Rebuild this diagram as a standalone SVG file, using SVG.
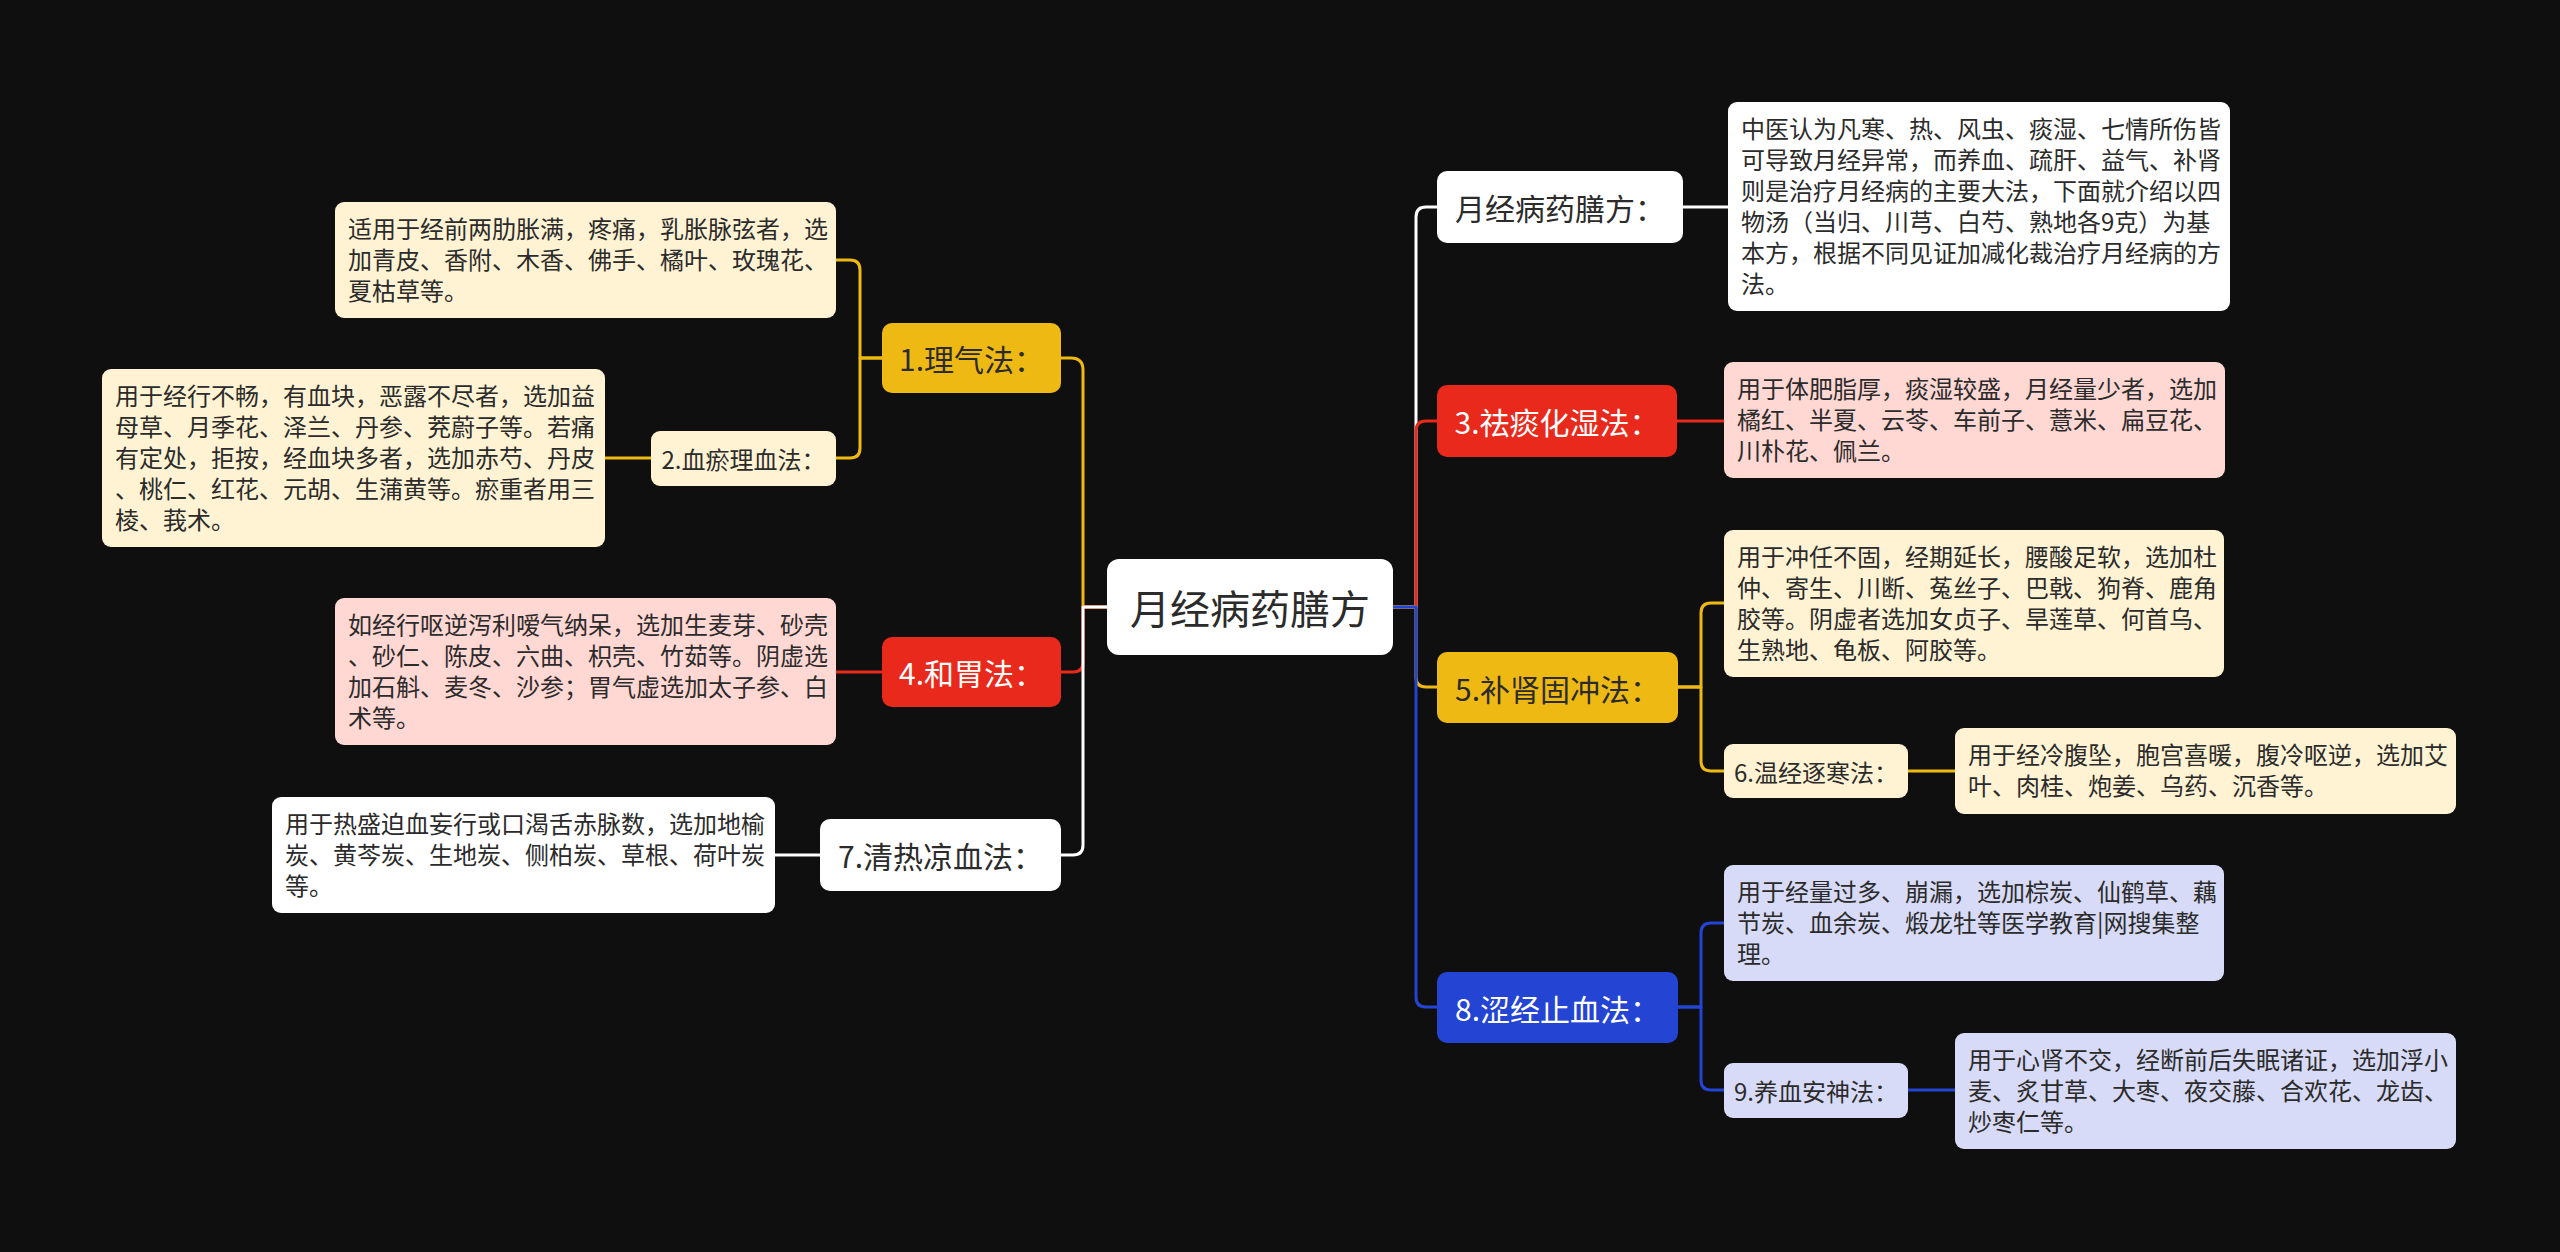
<svg xmlns="http://www.w3.org/2000/svg" width="2560" height="1252" viewBox="0 0 2560 1252">
<style>
text{font-family:"Noto Sans CJK SC","Noto Sans",sans-serif;}
.lt{font-size:24px;fill:#2b2b2b;}
.mt{font-size:30px;text-anchor:middle;dominant-baseline:central;}
.st{font-size:24px;text-anchor:middle;dominant-baseline:central;fill:#2b2b2b;}
.dk{fill:#2b2b2b;}
.wt{fill:#ffffff;}
.c{fill:none;stroke-width:3;stroke-linecap:round;stroke-linejoin:round;}
.cg{stroke:#EFB914;}
.cr{stroke:#E8291C;}
.cb{stroke:#2444D4;}
.cw{stroke:#FFFFFF;}
</style>
<rect x="0" y="0" width="2560" height="1252" fill="#0f0f0f"/>
<g id="connectors">
<path class="c cg" d="M1107,607 H1083 V370 Q1083,358 1071,358 H1061"/>
<path class="c cr" d="M1107,607 H1083 V662 Q1083,672 1073,672 H1061"/>
<path class="c cw" d="M1107,607 H1083 V845 Q1083,855 1073,855 H1061"/>
<path class="c cw" d="M1393,607 H1416 V217 Q1416,207 1426,207 H1437"/>
<path class="c cr" d="M1393,607 H1416 V431 Q1416,421 1426,421 H1437"/>
<path class="c cg" d="M1393,607 H1416 V677 Q1416,687 1426,687 H1437"/>
<path class="c cb" d="M1393,607 H1416 V997 Q1416,1007 1426,1007 H1437"/>
<path class="c cw" d="M1683,207 H1728"/>
<path class="c cr" d="M1677,421 H1724"/>
<path class="c cg" d="M1678,687 H1701 V613 Q1701,603 1711,603 H1724"/>
<path class="c cg" d="M1678,687 H1701 V761 Q1701,771 1711,771 H1724"/>
<path class="c cg" d="M1908,771 H1955"/>
<path class="c cb" d="M1678,1007 H1701 V933 Q1701,923 1711,923 H1724"/>
<path class="c cb" d="M1678,1007 H1701 V1080 Q1701,1090 1711,1090 H1724"/>
<path class="c cb" d="M1908,1090 H1955"/>
<path class="c cg" d="M882,358 H860 V270 Q860,260 850,260 H836"/>
<path class="c cg" d="M882,358 H860 V448 Q860,458 850,458 H836"/>
<path class="c cg" d="M651,458 H605"/>
<path class="c cr" d="M882,672 H836"/>
<path class="c cw" d="M820,855 H775"/>
</g>
<g id="root">
<rect x="1107" y="559" width="286" height="96" rx="12" fill="#ffffff"/>
<text x="1250" y="607" font-size="40" text-anchor="middle" dominant-baseline="central" class="dk">月经病药膳方</text>
</g>
<g id="n-intro">
<rect x="1437" y="171" width="246" height="72" rx="10" fill="#ffffff"/>
<text class="mt dk" x="1560" y="207">月经病药膳方：</text>
</g>
<g id="n-intro-leaf">
<rect x="1728" y="102" width="502" height="209" rx="9" fill="#ffffff"/>
<text class="lt" x="1741" y="138">中医认为凡寒、热、风虫、痰湿、七情所伤皆</text>
<text class="lt" x="1741" y="169">可导致月经异常，而养血、疏肝、益气、补肾</text>
<text class="lt" x="1741" y="200">则是治疗月经病的主要大法，下面就介绍以四</text>
<text class="lt" x="1741" y="231">物汤（当归、川芎、白芍、熟地各9克）为基</text>
<text class="lt" x="1741" y="262">本方，根据不同见证加减化裁治疗月经病的方</text>
<text class="lt" x="1741" y="293">法。</text>
</g>
<g id="n3">
<rect x="1437" y="385" width="240" height="72" rx="10" fill="#E8291C"/>
<text class="mt wt" x="1557" y="421">3.祛痰化湿法：</text>
</g>
<g id="n3-leaf">
<rect x="1724" y="362" width="501" height="116" rx="9" fill="#FFD7D3"/>
<text class="lt" x="1737" y="398">用于体肥脂厚，痰湿较盛，月经量少者，选加</text>
<text class="lt" x="1737" y="429">橘红、半夏、云苓、车前子、薏米、扁豆花、</text>
<text class="lt" x="1737" y="460">川朴花、佩兰。</text>
</g>
<g id="n5">
<rect x="1437" y="652" width="241" height="71" rx="10" fill="#EFB914"/>
<text class="mt dk" x="1557.5" y="687.5">5.补肾固冲法：</text>
</g>
<g id="n5-leaf">
<rect x="1724" y="530" width="500" height="147" rx="9" fill="#FFF3D4"/>
<text class="lt" x="1737" y="566">用于冲任不固，经期延长，腰酸足软，选加杜</text>
<text class="lt" x="1737" y="597">仲、寄生、川断、菟丝子、巴戟、狗脊、鹿角</text>
<text class="lt" x="1737" y="628">胶等。阴虚者选加女贞子、旱莲草、何首乌、</text>
<text class="lt" x="1737" y="659">生熟地、龟板、阿胶等。</text>
</g>
<g id="n6">
<rect x="1724" y="744" width="184" height="54" rx="9" fill="#FFF3D4"/>
<text class="st" x="1816" y="771">6.温经逐寒法：</text>
</g>
<g id="n6-leaf">
<rect x="1955" y="728" width="501" height="86" rx="9" fill="#FFF3D4"/>
<text class="lt" x="1968" y="764">用于经冷腹坠，胞宫喜暖，腹冷呕逆，选加艾</text>
<text class="lt" x="1968" y="795">叶、肉桂、炮姜、乌药、沉香等。</text>
</g>
<g id="n8">
<rect x="1437" y="972" width="241" height="71" rx="10" fill="#2444D4"/>
<text class="mt wt" x="1557.5" y="1007.5">8.涩经止血法：</text>
</g>
<g id="n8-leaf">
<rect x="1724" y="865" width="500" height="116" rx="9" fill="#D8DBF7"/>
<text class="lt" x="1737" y="901">用于经量过多、崩漏，选加棕炭、仙鹤草、藕</text>
<text class="lt" x="1737" y="932">节炭、血余炭、煅龙牡等医学教育|网搜集整</text>
<text class="lt" x="1737" y="963">理。</text>
</g>
<g id="n9">
<rect x="1724" y="1063" width="184" height="55" rx="9" fill="#D8DBF7"/>
<text class="st" x="1816" y="1090.5">9.养血安神法：</text>
</g>
<g id="n9-leaf">
<rect x="1955" y="1033" width="501" height="116" rx="9" fill="#D8DBF7"/>
<text class="lt" x="1968" y="1069">用于心肾不交，经断前后失眠诸证，选加浮小</text>
<text class="lt" x="1968" y="1100">麦、炙甘草、大枣、夜交藤、合欢花、龙齿、</text>
<text class="lt" x="1968" y="1131">炒枣仁等。</text>
</g>
<g id="n1">
<rect x="882" y="323" width="179" height="70" rx="10" fill="#EFB914"/>
<text class="mt dk" x="971.5" y="358">1.理气法：</text>
</g>
<g id="n1-leaf">
<rect x="335" y="202" width="501" height="116" rx="9" fill="#FFF3D4"/>
<text class="lt" x="348" y="238">适用于经前两肋胀满，疼痛，乳胀脉弦者，选</text>
<text class="lt" x="348" y="269">加青皮、香附、木香、佛手、橘叶、玫瑰花、</text>
<text class="lt" x="348" y="300">夏枯草等。</text>
</g>
<g id="n2">
<rect x="651" y="431" width="185" height="55" rx="9" fill="#FFF3D4"/>
<text class="st" x="743.5" y="458.5">2.血瘀理血法：</text>
</g>
<g id="n2-leaf">
<rect x="102" y="369" width="503" height="178" rx="9" fill="#FFF3D4"/>
<text class="lt" x="115" y="405">用于经行不畅，有血块，恶露不尽者，选加益</text>
<text class="lt" x="115" y="436">母草、月季花、泽兰、丹参、茺蔚子等。若痛</text>
<text class="lt" x="115" y="467">有定处，拒按，经血块多者，选加赤芍、丹皮</text>
<text class="lt" x="115" y="498">、桃仁、红花、元胡、生蒲黄等。瘀重者用三</text>
<text class="lt" x="115" y="529">棱、莪术。</text>
</g>
<g id="n4">
<rect x="882" y="637" width="179" height="70" rx="10" fill="#E8291C"/>
<text class="mt wt" x="971.5" y="672">4.和胃法：</text>
</g>
<g id="n4-leaf">
<rect x="335" y="598" width="501" height="147" rx="9" fill="#FFD7D3"/>
<text class="lt" x="348" y="634">如经行呕逆泻利嗳气纳呆，选加生麦芽、砂壳</text>
<text class="lt" x="348" y="665">、砂仁、陈皮、六曲、枳壳、竹茹等。阴虚选</text>
<text class="lt" x="348" y="696">加石斛、麦冬、沙参；胃气虚选加太子参、白</text>
<text class="lt" x="348" y="727">术等。</text>
</g>
<g id="n7">
<rect x="820" y="819" width="241" height="72" rx="10" fill="#ffffff"/>
<text class="mt dk" x="940.5" y="855">7.清热凉血法：</text>
</g>
<g id="n7-leaf">
<rect x="272" y="797" width="503" height="116" rx="9" fill="#ffffff"/>
<text class="lt" x="285" y="833">用于热盛迫血妄行或口渴舌赤脉数，选加地榆</text>
<text class="lt" x="285" y="864">炭、黄芩炭、生地炭、侧柏炭、草根、荷叶炭</text>
<text class="lt" x="285" y="895">等。</text>
</g>
</svg>
